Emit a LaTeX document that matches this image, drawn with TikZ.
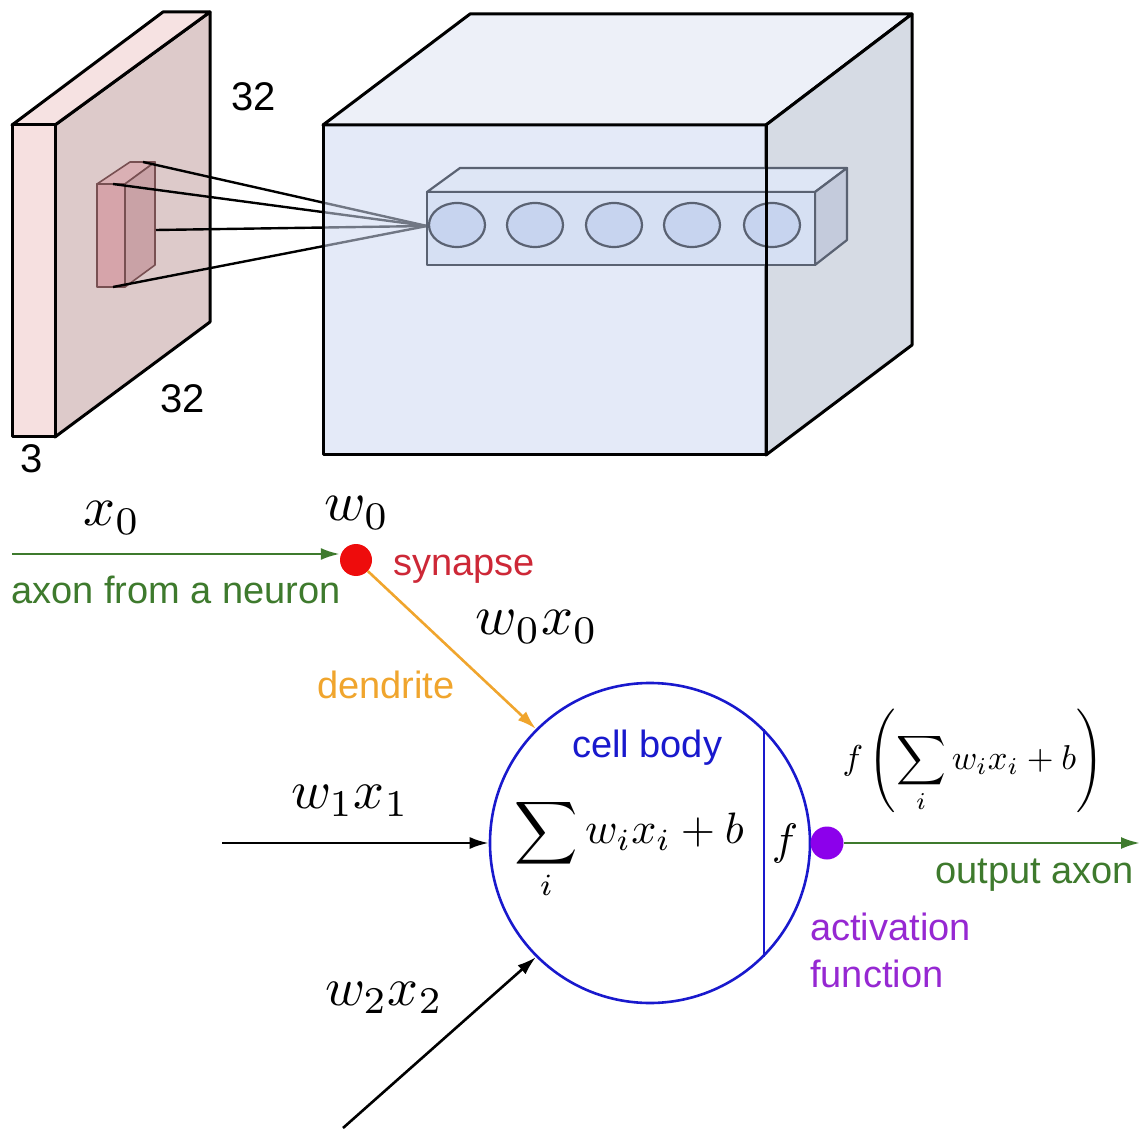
\documentclass[tikz,border=0pt]{standalone}
\usepackage{graphicx}
\usepackage{fontspec}
\newfontfamily\lsans{Liberation Sans}
\usetikzlibrary{arrows.meta}
\definecolor{slabfront}{RGB}{246,224,224}
\definecolor{slabtop}{RGB}{246,226,226}
\definecolor{slabside}{RGB}{221,202,202}
\definecolor{boxfront}{RGB}{214,164,170}
\definecolor{boxtop}{RGB}{218,176,180}
\definecolor{boxright}{RGB}{201,162,166}
\definecolor{boxedge}{RGB}{120,80,82}
\definecolor{cubefront}{RGB}{206,217,242}
\definecolor{cubetop}{RGB}{237,240,248}
\definecolor{cuberight}{RGB}{214,219,228}
\definecolor{colfront}{RGB}{214,224,243}
\definecolor{coltop}{RGB}{222,230,245}
\definecolor{colright}{RGB}{196,203,220}
\definecolor{coledge}{RGB}{90,98,114}
\definecolor{ellfill}{RGB}{199,212,239}
\definecolor{axgreen}{RGB}{62,122,45}
\definecolor{synred}{RGB}{205,40,55}
\definecolor{dotred}{RGB}{238,12,12}
\definecolor{dend}{RGB}{240,165,45}
\definecolor{cellblue}{RGB}{25,25,205}
\definecolor{dotpurple}{RGB}{140,0,235}
\definecolor{actpurple}{RGB}{150,40,210}
\begin{document}
\begin{tikzpicture}[x=1pt,y=-1pt,line join=round,
  outl/.style={draw=black,line width=3pt},
  boxl/.style={draw=boxedge,line width=1.6pt},
  coll/.style={draw=coledge,line width=2.2pt},
  lab/.style={font={\lsans\fontsize{38}{44}\selectfont},inner sep=0pt},
  dimlab/.style={font={\lsans\fontsize{40}{44}\selectfont},inner sep=0pt},
  mlab/.style={inner sep=0pt},
  arr/.style={line width=2.6pt,-{Latex[length=19pt,width=12pt]}},
  dot/.style={circle,inner sep=0pt,minimum size=32pt}]
\useasboundingbox (0,0) rectangle (1141,1131);

% ---------- input slab ----------
\path[outl,fill=slabside] (55,125) -- (210,12) -- (210,322) -- (55,437) -- cycle;
\path[outl,fill=slabtop] (12,125) -- (163,12) -- (210,12) -- (55,125) -- cycle;
\path[outl,fill=slabfront] (12,125) rectangle (55,437);

% ---------- receptive field box ----------
\path[boxl,fill=boxtop] (97,184) -- (130,162) -- (155,162) -- (125,184) -- cycle;
\path[boxl,fill=boxright] (125,184) -- (155,162) -- (155,265) -- (125,287) -- cycle;
\path[boxl,fill=boxfront] (97,184) rectangle (125,287);

\coordinate (rf1) at (143,162);
\coordinate (rf2) at (113,184);
\coordinate (rf3) at (156,230);
\coordinate (rf4) at (113,287);
\coordinate (colin) at (427,226);
\foreach \p in {rf1,rf2,rf3,rf4} \draw[line width=2.4pt] (\p) -- (colin);

% ---------- output volume ----------
\path[outl,fill=cubefront,fill opacity=0.55] (323,125) rectangle (766,455);
\path[outl,fill=cubetop] (323,125) -- (470,14) -- (912,14) -- (766,125) -- cycle;
\path[outl,fill=cuberight] (766,125) -- (912,14) -- (912,345) -- (766,455) -- cycle;

% ---------- neuron column ----------
\path[coll,fill=coltop] (427,192) -- (460,168) -- (847,168) -- (815,192) -- cycle;
\path[coll,fill=colright] (815,192) -- (847,168) -- (847,240) -- (815,265) -- cycle;
\path[coll,fill=colfront] (427,192) rectangle (815,265);
\foreach \cx in {457,535,614,692,772}
  \path[coll,fill=ellfill] (\cx,225) ellipse [x radius=28, y radius=22];
\draw[line width=3pt] (766,125) -- (766,455);

\node[dimlab,anchor=base] (d32a) at (254,111) {32};
\node[dimlab,anchor=base] (d32b) at (183,413) {32};
\node[dimlab,anchor=base] (d3) at (32,473) {3};

% ---------- neuron ----------
\node[circle,draw=cellblue,line width=2.6pt,minimum size=320pt,inner sep=0pt] (cell) at (650,843) {};
\draw[cellblue,line width=2.6pt] (cell.45) -- (cell.-45);
\node[lab,text=cellblue,anchor=base west] (cbody) at (572,757) {cell body};
\node[mlab] (sumin) at (629,849) {\scalebox{4.4}{$\displaystyle\sum_i w_i x_i + b$}};
\node[mlab] (fin) at (785,843) {\scalebox{4.4}{$f$}};

\node[dot,fill=dotred] (syn) at (356,560) {};
\node[dot,fill=dotpurple,minimum size=33pt] (act) at (827,843) {};

\coordinate (axstart) at (12,554);
\draw[arr,axgreen] (axstart) -- (axstart -| syn.west);
\draw[arr,dend] (syn) -- (cell.135);
\coordinate (w1s) at (222,843);
\draw[arr,black] (w1s) -- (cell.west);
\coordinate (w2s) at (343,1128);
\draw[arr,black] (w2s) -- (cell.225);
\coordinate (outend) at (1140,843);
\draw[arr,axgreen] (act) -- (outend);

\node[mlab] (lx0) at (112,518) {\scalebox{5.6}{$x_0$}};
\node[mlab] (lw0) at (357,513) {\scalebox{5.6}{$w_0$}};
\node[mlab] (lw0x0) at (537,627) {\scalebox{5.6}{$w_0x_0$}};
\node[mlab] (lw1x1) at (350,801) {\scalebox{5.4}{$w_1x_1$}};
\node[mlab] (lw2x2) at (384,998) {\scalebox{5.4}{$w_2x_2$}};
\node[mlab] (fout) at (973,761) {\scalebox{3.45}{$f\left(\displaystyle\sum_i w_i x_i + b\right)$}};

\node[lab,text=axgreen,anchor=base west] (laxon) at (11,603) {axon from a neuron};
\node[lab,text=synred,anchor=base west] (lsyn) at (393,575) {synapse};
\node[lab,text=dend,anchor=base west] (ldend) at (317,698) {dendrite};
\node[lab,text=axgreen,anchor=base east] (lout) at (1134,883) {output axon};
\node[lab,text=actpurple,anchor=base west] (lact) at (810,940) {activation};
\node[lab,text=actpurple,anchor=base west] (lfun) at (810,987) {function};
\end{tikzpicture}
\end{document}
